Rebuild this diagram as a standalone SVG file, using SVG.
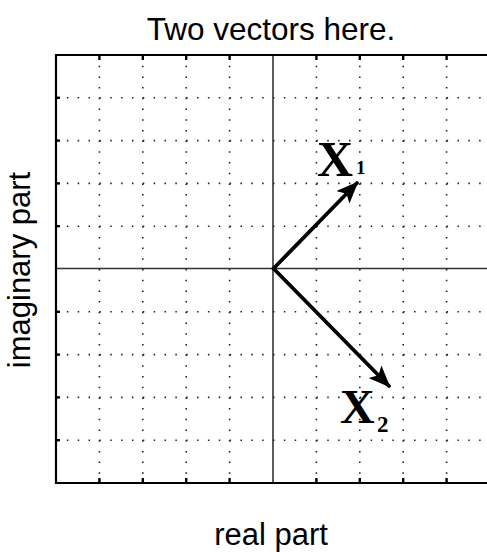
<svg xmlns="http://www.w3.org/2000/svg" width="487" height="552" viewBox="0 0 487 552">
<style>
.txt{font-family:"Liberation Sans",Arial,sans-serif;fill:#000}
.hand{font-family:"Liberation Serif","Times New Roman",serif;font-weight:bold;fill:#000}
.gh{stroke:#222;stroke-width:1.6;stroke-dasharray:1.5 9.35;fill:none}
.gv{stroke:#222;stroke-width:1.6;stroke-dasharray:1.5 9.2;fill:none}
.axis{stroke:#333;stroke-width:1.6;fill:none}
.border{stroke:#000;stroke-width:2.2;fill:none}
.tick{stroke:#000;stroke-width:2.4}
.vec{stroke:#000;stroke-width:3.8;fill:none;stroke-linecap:round;stroke-linejoin:round}
</style>
<defs>
<marker id="head" markerUnits="userSpaceOnUse" markerWidth="24" markerHeight="20" refX="20" refY="9" orient="auto" viewBox="0 0 24 20">
<path d="M0,0 L22,9 L0,18 L5,9 z" fill="#000"/>
</marker>
</defs>
<rect width="487" height="552" fill="#fff"/>
<g id="grid">
<g class="gv">
<line x1="99.4" y1="55" x2="99.4" y2="483"/>
<line x1="142.8" y1="55" x2="142.8" y2="483"/>
<line x1="186.2" y1="55" x2="186.2" y2="483"/>
<line x1="229.6" y1="55" x2="229.6" y2="483"/>
<line x1="316.4" y1="55" x2="316.4" y2="483"/>
<line x1="359.8" y1="55" x2="359.8" y2="483"/>
<line x1="403.2" y1="55" x2="403.2" y2="483"/>
<line x1="446.6" y1="55" x2="446.6" y2="483"/>
</g>
<g class="gh">
<line x1="56" y1="97.8" x2="490" y2="97.8"/>
<line x1="56" y1="140.6" x2="490" y2="140.6"/>
<line x1="56" y1="183.4" x2="490" y2="183.4"/>
<line x1="56" y1="226.2" x2="490" y2="226.2"/>
<line x1="56" y1="311.8" x2="490" y2="311.8"/>
<line x1="56" y1="354.6" x2="490" y2="354.6"/>
<line x1="56" y1="397.4" x2="490" y2="397.4"/>
<line x1="56" y1="440.2" x2="490" y2="440.2"/>
</g>
<line class="axis" x1="273" y1="55" x2="273" y2="483"/>
<line class="axis" x1="56" y1="268.5" x2="490" y2="268.5"/>
<path class="border" d="M490,55 H56 V483 H490"/>
<g class="tick">
<line x1="99.4" y1="55" x2="99.4" y2="60"/><line x1="142.8" y1="55" x2="142.8" y2="60"/><line x1="186.2" y1="55" x2="186.2" y2="60"/><line x1="229.6" y1="55" x2="229.6" y2="60"/><line x1="316.4" y1="55" x2="316.4" y2="60"/><line x1="359.8" y1="55" x2="359.8" y2="60"/><line x1="403.2" y1="55" x2="403.2" y2="60"/><line x1="446.6" y1="55" x2="446.6" y2="60"/>
<line x1="99.4" y1="478" x2="99.4" y2="483"/><line x1="142.8" y1="478" x2="142.8" y2="483"/><line x1="186.2" y1="478" x2="186.2" y2="483"/><line x1="229.6" y1="478" x2="229.6" y2="483"/><line x1="316.4" y1="478" x2="316.4" y2="483"/><line x1="359.8" y1="478" x2="359.8" y2="483"/><line x1="403.2" y1="478" x2="403.2" y2="483"/><line x1="446.6" y1="478" x2="446.6" y2="483"/>
<line x1="56" y1="97.8" x2="60" y2="97.8"/><line x1="56" y1="140.6" x2="60" y2="140.6"/><line x1="56" y1="183.4" x2="60" y2="183.4"/><line x1="56" y1="226.2" x2="60" y2="226.2"/><line x1="56" y1="311.8" x2="60" y2="311.8"/><line x1="56" y1="354.6" x2="60" y2="354.6"/><line x1="56" y1="397.4" x2="60" y2="397.4"/><line x1="56" y1="440.2" x2="60" y2="440.2"/>
</g>
</g>
<g id="title"><text class="txt" x="271" y="40" font-size="31.5" text-anchor="middle">Two vectors here.</text></g>
<g id="xlabel"><text class="txt" x="271" y="545" font-size="31" text-anchor="middle">real part</text></g>
<g id="ylabel"><text class="txt" transform="translate(30,270) rotate(-90)" font-size="31" text-anchor="middle">imaginary part</text></g>
<g id="connectors">
<path class="vec" d="M273.5,268.5 L357,183" marker-end="url(#head)"/>
<path class="vec" d="M273.5,268.5 L389,386" marker-end="url(#head)"/>
</g>
<g id="label-x1"><text class="hand" x="317" y="176" font-size="50">X</text><text class="hand" x="356" y="174" font-size="19">1</text></g>
<g id="label-x2"><text class="hand" x="340" y="423" font-size="48">X</text><text class="hand" x="377" y="432" font-size="23">2</text></g>
</svg>
